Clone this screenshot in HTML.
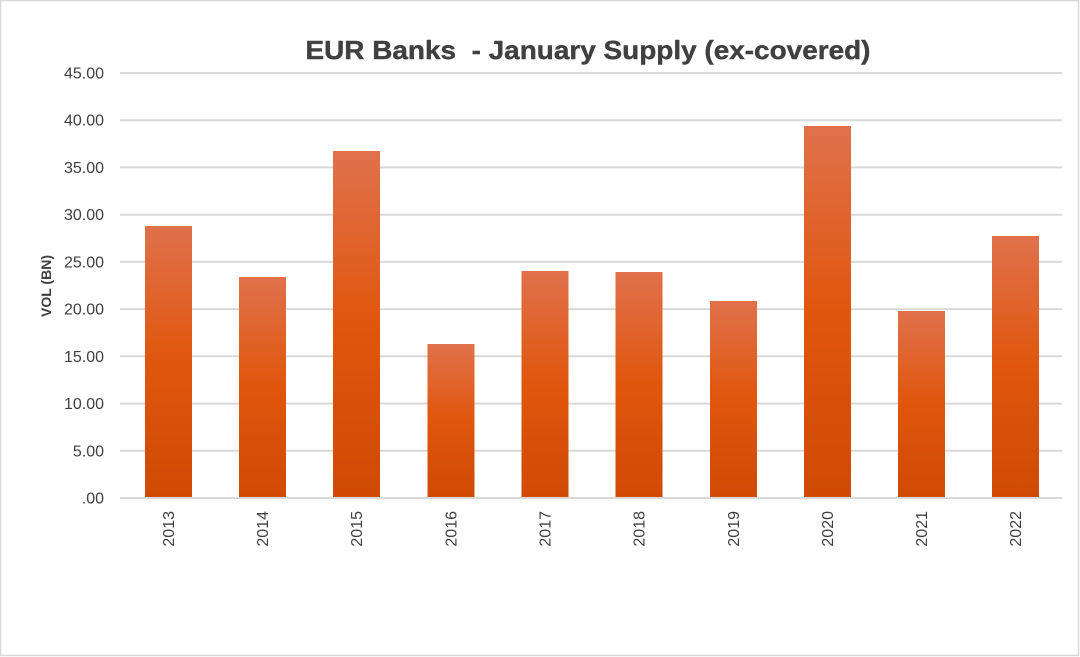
<!DOCTYPE html>
<html><head><meta charset="utf-8"><style>
html,body{margin:0;padding:0;background:#fff;}
svg{display:block;}
</style></head><body>
<svg width="1080" height="657" viewBox="0 0 1080 657" xmlns="http://www.w3.org/2000/svg">
<defs>
<linearGradient id="g" x1="0" y1="0" x2="0" y2="1">
<stop offset="0" stop-color="#e0714c"/>
<stop offset="0.5" stop-color="#e0560c"/>
<stop offset="1" stop-color="#cf4a03"/>
</linearGradient>
</defs>
<rect x="0.5" y="0.5" width="1078" height="655" fill="#fff" stroke="#d9d9d9" stroke-width="1.5"/>
<text x="588" y="59" text-anchor="middle" font-family="Liberation Sans, sans-serif" font-weight="bold" font-size="26" fill="#404040" stroke="#404040" stroke-width="0.4" textLength="565" lengthAdjust="spacingAndGlyphs">EUR Banks&#160; - January Supply (ex-covered)</text>
<g stroke="#d9d9d9" stroke-width="2">
<line x1="120" x2="1062" y1="73" y2="73"/>
<line x1="120" x2="1062" y1="120.2" y2="120.2"/>
<line x1="120" x2="1062" y1="167.4" y2="167.4"/>
<line x1="120" x2="1062" y1="214.7" y2="214.7"/>
<line x1="120" x2="1062" y1="261.9" y2="261.9"/>
<line x1="120" x2="1062" y1="309.1" y2="309.1"/>
<line x1="120" x2="1062" y1="356.3" y2="356.3"/>
<line x1="120" x2="1062" y1="403.6" y2="403.6"/>
<line x1="120" x2="1062" y1="450.8" y2="450.8"/>
</g>
<g font-family="Liberation Sans, sans-serif" font-size="16" fill="#404040" text-anchor="end">
<text x="104" y="78.5">45.00</text>
<text x="104" y="125.7">40.00</text>
<text x="104" y="172.9">35.00</text>
<text x="104" y="220.2">30.00</text>
<text x="104" y="267.4">25.00</text>
<text x="104" y="314.6">20.00</text>
<text x="104" y="361.8">15.00</text>
<text x="104" y="409.1">10.00</text>
<text x="104" y="456.3">5.00</text>
<text x="104" y="503.5">.00</text>
</g>
<text transform="translate(51,286) rotate(-90)" text-anchor="middle" font-family="Liberation Sans, sans-serif" font-weight="bold" font-size="14" fill="#404040">VOL (BN)</text>
<g fill="url(#g)">
<rect x="145" y="226" width="47" height="272"/>
<rect x="239" y="277" width="47" height="221"/>
<rect x="333" y="151" width="47" height="347"/>
<rect x="427.5" y="344" width="47" height="154"/>
<rect x="521.5" y="271" width="47" height="227"/>
<rect x="615.5" y="272" width="47" height="226"/>
<rect x="710" y="301" width="47" height="197"/>
<rect x="804" y="126" width="47" height="372"/>
<rect x="898" y="311" width="47" height="187"/>
<rect x="992" y="236" width="47" height="262"/>
</g>
<line x1="120" x2="1062" y1="498" y2="498" stroke="#d9d9d9" stroke-width="2"/>
<g font-family="Liberation Sans, sans-serif" font-size="16" fill="#404040" text-anchor="end">
<text transform="translate(174,511) rotate(-90)">2013</text>
<text transform="translate(268,511) rotate(-90)">2014</text>
<text transform="translate(362,511) rotate(-90)">2015</text>
<text transform="translate(456.5,511) rotate(-90)">2016</text>
<text transform="translate(550.5,511) rotate(-90)">2017</text>
<text transform="translate(644.5,511) rotate(-90)">2018</text>
<text transform="translate(739,511) rotate(-90)">2019</text>
<text transform="translate(833,511) rotate(-90)">2020</text>
<text transform="translate(927,511) rotate(-90)">2021</text>
<text transform="translate(1021,511) rotate(-90)">2022</text>
</g>
</svg>
</body></html>
